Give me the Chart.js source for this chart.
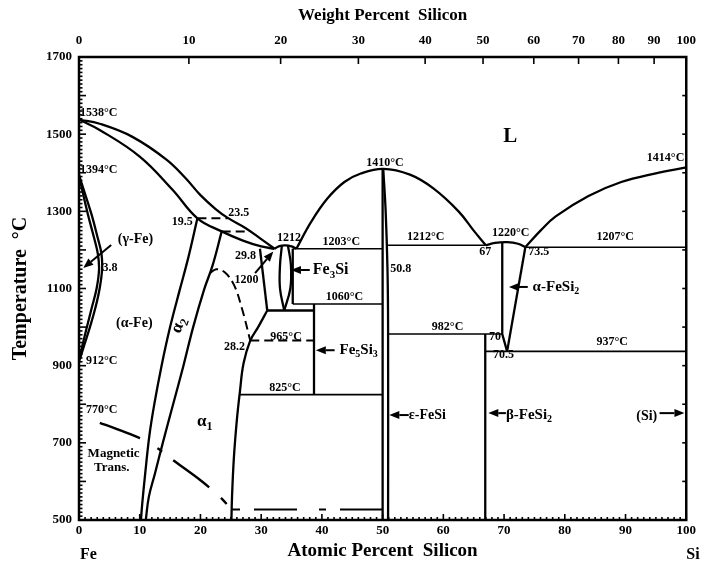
<!DOCTYPE html>
<html><head><meta charset="utf-8">
<script src="https://cdn.jsdelivr.net/npm/chart.js@4.4.0/dist/chart.umd.min.js"></script>
<style>html,body{margin:0;padding:0;background:#fff}</style>
</head><body>
<canvas id="c" width="705" height="562"></canvas>
<script>
// ---------- tick labels ----------
const tempTicks = [500, 700, 900, 1100, 1300, 1500, 1700];
const atomicTicks = [0, 10, 20, 30, 40, 50, 60, 70, 80, 90, 100];
const weightTicks = [0, 10, 20, 30, 40, 50, 60, 70, 80, 90, 100];
const M_FE = 55.845, M_SI = 28.086;

// ---------- phase boundaries [at% Si, °C] ----------
const liquidusFe   = [[0,1538],[3.4,1527],[8.8,1493],[14.4,1434],[17.6,1385],[20,1342],[22.5,1306],[24.5,1283],[27.4,1257],[30,1228],[32.2,1203]];
const solidusFe    = [[0,1538],[3.4,1511],[10,1442],[15.4,1356],[19.5,1282],[23.5,1248],[27,1224],[30,1209],[32.2,1203]];
const gammaOuter   = [[0,1394],[0.9,1350],[2.1,1290],[3.1,1230],[3.7,1190],[3.8,1150],[3.4,1100],[2.7,1050],[1.8,1000],[0.9,955],[0.3,925],[0,912]];
const gammaInner   = [[0,1394],[0.6,1350],[1.5,1290],[2.5,1230],[3.1,1190],[3.3,1150],[2.9,1100],[2.1,1050],[1.3,1000],[0.6,955],[0.15,925],[0,912]];
const tie1282      = [[19.5,1282],[24.5,1282]];
const tie1248      = [[23.5,1248],[27.6,1248]];
const alpha2Left   = [[19.5,1282],[18.0,1180],[16.6,1097],[15.0,1000],[13.6,900],[12.4,800],[11.6,720],[10.9,620],[10.4,540],[10.2,500]];
const alpha2Right  = [[23.5,1248],[22.0,1160],[20.6,1097],[18.8,1000],[17.2,900],[15.5,800],[13.8,700],[12.5,620],[11.5,560],[11.0,500]];
const orderTrans   = [[21.6,1140],[22.6,1150],[24.0,1142],[25.5,1110],[26.8,1050],[28.2,965]];
const alpha1Top    = [[29.8,1203],[31.0,1043]];
const alpha1Curve  = [[31.0,1043],[29.5,1000],[28.2,965],[27.1,906],[26.5,833],[26.0,760],[25.5,660],[25.2,560],[25.1,500]];
const dome1212     = [[32.2,1203],[33.0,1210],[34.0,1212],[35.0,1209],[35.8,1203]];
const fe2siLeft    = [[33.4,1210],[33.1,1160],[33.1,1100],[33.8,1043]];
const fe2siRight   = [[34.4,1212],[34.9,1160],[34.8,1100],[33.8,1043]];
const boxLeft      = [[35.2,1203],[35.2,1060]];
const iso1203      = [[35.2,1203],[50,1203]];
const iso1060      = [[35.2,1060],[50,1060]];
const iso1040      = [[31.0,1043],[38.7,1043]];
const fe5si3       = [[38.7,1060],[38.7,825]];
const iso965       = [[28.2,965],[38.7,965]];
const iso825       = [[26.5,825],[50,825]];
const liquidusFeSi = [[35.8,1203],[38.2,1272],[40.9,1333],[43.7,1376],[46.4,1398],[50.1,1410],[54.5,1395],[58.3,1360],[62.5,1300],[65,1250],[67,1212]];
const feSiLeft     = [[50,1410],[50,500]];
const feSiRight    = [[50.1,1410],[50.5,1300],[50.8,1150],[50.9,1000],[50.9,500]];
const iso1212      = [[50.9,1212],[67,1212]];
const iso982       = [[50.9,982],[69.7,982]];
const betaFeSi2    = [[66.9,982],[66.9,500]];
const dome1220     = [[67,1212],[68.5,1218],[70.5,1220],[72.3,1216],[73.5,1207]];
const alphaFeSi2L  = [[69.7,1219],[69.7,982],[70.5,937]];
const alphaFeSi2R  = [[73.5,1207],[70.5,937]];
const iso937       = [[66.9,937],[100,937]];
const iso1207      = [[73.5,1207],[100,1207]];
const liquidusSi   = [[73.5,1207],[76,1250],[78.5,1287],[83.9,1340],[89.3,1376],[94.8,1398],[100,1414]];
const magnetic     = [[0,770],[3.4,752],[10,712],[13,685],[15.4,656],[20,603],[23,563],[25,530]];
const lowDashed    = [[25.2,527],[50,527]];

// ---------- annotations (text, at% Si, °C) ----------
const notes = [
  ['1538°C',0.15,1555,12,'left'], ['1394°C',0.15,1408,12,'left'],
  ['(γ-Fe)',9.3,1226,14,'center'], ['3.8',5.1,1154,12,'center'],
  ['(α-Fe)',9.1,1010,14,'center'], ['912°C',1.15,912,12,'left'],
  ['770°C',1.15,785,12,'left'], ['Magnetic',5.7,671,13,'center'], ['Trans.',5.4,635,13,'center'],
  ['α_1',20.7,754,17,'center'],
  ['19.5',17.0,1272,12,'center'], ['23.5',26.3,1296,12,'center'],
  ['29.8',27.4,1185,12,'center'], ['1200',27.6,1122,12,'center'], ['1212',34.6,1231,12,'center'],
  ['1203°C',43.2,1221,12,'center'], ['Fe_3Si',38.5,1148,16,'left'], ['1060°C',43.7,1078,12,'center'],
  ['28.2',25.6,948,12,'center'], ['965°C',34.1,974,12,'center'], ['Fe_5Si_3',42.9,940,15,'left'],
  ['825°C',33.9,842,12,'center'], ['ε-FeSi',54.3,772,14,'left'],
  ['1410°C',50.4,1426,12,'center'], ['50.8',53.0,1151,12,'center'], ['1212°C',57.1,1234,12,'center'],
  ['982°C',60.7,1000,12,'center'], ['L',71.0,1493,21,'center'], ['1220°C',71.1,1244,12,'center'],
  ['67',66.9,1195,12,'center'], ['73.5',75.7,1195,12,'center'], ['1207°C',88.3,1234,12,'center'],
  ['1414°C',96.6,1439,12,'center'], ['α-FeSi_2',74.7,1104,15,'left'],
  ['70',68.5,974,12,'center'], ['70.5',69.9,928,12,'center'], ['937°C',87.8,961,12,'center'],
  ['β-FeSi_2',70.3,772,15,'left'], ['(Si)',93.5,769,14,'center']
];
const arrows = [
  [5.3,1213,0.7,1153], [29.0,1140,32.0,1196], [38.0,1148,34.9,1148], [42.1,940,39.0,940],
  [54.3,772,51.1,772], [73.9,1104,70.8,1104], [70.3,777,67.4,777], [95.6,777,99.7,777]
];

function wtToAt(w){ if (w>=100) return 100; const a=w/M_SI, b=(100-w)/M_FE; return 100*a/(a+b); }

const FONT = '"Liberation Serif", "Times New Roman", serif';
function mk(arr, opts){ return Object.assign({data: arr.map(p=>({x:p[0],y:p[1]})), showLine:true, borderColor:'#000', borderWidth:2.3, pointRadius:0, tension:0, fill:false}, opts||{}); }
const curve = {tension:0.4};
const thin = {borderWidth:1.6};
const dash = {borderDash:[9,5], borderWidth:2};

const datasets = [
  mk(liquidusFe,curve), mk(solidusFe,curve), mk(gammaOuter,curve), mk(gammaInner,curve),
  mk(tie1282,dash), mk(tie1248,dash), mk(alpha2Left,curve), mk(alpha2Right,curve),
  mk(orderTrans,Object.assign({tension:0.4},dash)), mk(alpha1Top), mk(alpha1Curve,curve),
  mk(dome1212,curve), mk(fe2siLeft,curve), mk(fe2siRight,curve), mk(boxLeft),
  mk(iso1203,thin), mk(iso1060,thin), mk(iso1040), mk(fe5si3), mk(iso965,dash), mk(iso825,thin),
  mk(liquidusFeSi,curve), mk(feSiLeft), mk(feSiRight,curve), mk(iso1212,thin), mk(iso982,thin),
  mk(betaFeSi2), mk(dome1220,curve), mk(alphaFeSi2L), mk(alphaFeSi2R), mk(iso937,thin), mk(iso1207,thin),
  mk(liquidusSi,curve),
  mk(magnetic,{tension:0.3,borderDash:[43,20,6,14,45,16,8,102],borderDashOffset:232,borderWidth:2.4}),
  mk(lowDashed,{borderDash:[8,14,43,22,7,14,42,20],borderWidth:2})
];

function richText(ctx, txt, x, y, size, align){
  const segs=[]; for(let i=0;i<txt.length;i++){ if(txt[i]==='_'&&i+1<txt.length){segs.push([txt[i+1],1]);i++;} else { if(segs.length&&segs[segs.length-1][1]===0) segs[segs.length-1][0]+=txt[i]; else segs.push([txt[i],0]); } }
  const f0='bold '+size+'px '+FONT, f1='bold '+Math.round(size*0.68)+'px '+FONT;
  let w=0; segs.forEach(s=>{ctx.font=s[1]?f1:f0; w+=ctx.measureText(s[0]).width;});
  let cx = align==='left'?x:(align==='right'?x-w:x-w/2);
  ctx.textAlign='left'; ctx.textBaseline='middle';
  segs.forEach(s=>{ctx.font=s[1]?f1:f0; ctx.fillText(s[0],cx,y+(s[1]?size*0.3:0)); cx+=ctx.measureText(s[0]).width;});
}

const deco = {
  id:'deco',
  afterDraw(chart){
    const {ctx, chartArea:a, scales:{x,y}} = chart;
    const X=v=>x.getPixelForValue(v), Y=v=>y.getPixelForValue(v);
    ctx.save();
    ctx.strokeStyle='#000'; ctx.fillStyle='#000';
    ctx.lineWidth=2.5; ctx.strokeRect(a.left,a.top,a.right-a.left,a.bottom-a.top);
    const seg=(x1,y1,x2,y2)=>{ctx.beginPath();ctx.moveTo(x1,y1);ctx.lineTo(x2,y2);ctx.stroke();};
    ctx.lineWidth=1.6;
    for(let t=500;t<=1700;t+=10){ const p=Y(t); seg(a.left,p,a.left+(t%100===0?7:3.5),p); }
    for(let t=600;t<1700;t+=100){ const p=Y(t); seg(a.right,p,a.right-4,p); }
    for(let v=0;v<=100;v+=1){ const p=X(v); seg(p,a.bottom,p,a.bottom-(v%10===0?6:3)); }
    weightTicks.forEach(w=>{ const p=X(wtToAt(w)); seg(p,a.top,p,a.top+7); });
    // arrows
    ctx.lineWidth=2;
    arrows.forEach(r=>{ const x1=X(r[0]),y1=Y(r[1]),x2=X(r[2]),y2=Y(r[3]);
      const ang=Math.atan2(y2-y1,x2-x1), L=10, W=4;
      const bx=x2-L*Math.cos(ang), by=y2-L*Math.sin(ang);
      seg(x1,y1,bx,by);
      ctx.beginPath(); ctx.moveTo(x2,y2);
      ctx.lineTo(bx+W*Math.sin(ang),by-W*Math.cos(ang)); ctx.lineTo(bx-W*Math.sin(ang),by+W*Math.cos(ang)); ctx.closePath(); ctx.fill(); });
    // notes
    notes.forEach(n=>richText(ctx,n[0],X(n[1]),Y(n[2]),n[3],n[4]));
    // rotated alpha2
    ctx.save(); ctx.translate(X(16.4),Y(1005)); ctx.rotate(-70*Math.PI/180); richText(ctx,'α_2',0,0,17,'center'); ctx.restore();
    // Fe / Si end labels
    richText(ctx,'Fe',X(0)+1,a.bottom+35,16,'left');
    richText(ctx,'Si',X(100),a.bottom+35,16,'left');
    ctx.restore();
  }
};

new Chart(document.getElementById('c'), {
  type:'scatter',
  data:{datasets},
  options:{
    responsive:false, animation:false, devicePixelRatio:1,
    layout:{padding:{left:0,right:13,top:0,bottom:0}},
    plugins:{legend:{display:false}, tooltip:{enabled:false}},
    scales:{
      x:{type:'linear', position:'bottom', min:0, max:100,
         afterFit:s=>{s.height=42;},
         afterBuildTicks:s=>{s.ticks=atomicTicks.map(v=>({value:v}));},
         grid:{display:false, drawTicks:false}, border:{display:false},
         ticks:{padding:3, color:'#000', font:{family:FONT, size:13, weight:'bold'}, maxRotation:0, autoSkip:false,
                callback:v=>String(v)},
         title:{display:true, text:'Atomic Percent  Silicon', color:'#000', font:{family:FONT,size:19,weight:'bold'}, padding:{top:0,bottom:0}}},
      x2:{type:'linear', position:'top', min:0, max:100,
         afterFit:s=>{s.height=57;},
         afterBuildTicks:s=>{s.ticks=weightTicks.map(w=>({value:wtToAt(w)}));},
         grid:{display:false, drawTicks:false}, border:{display:false},
         ticks:{padding:9, color:'#000', font:{family:FONT, size:13, weight:'bold'}, maxRotation:0, autoSkip:false,
                callback:(v,i)=>String(weightTicks[i])},
         title:{display:true, text:'Weight Percent  Silicon', color:'#000', font:{family:FONT,size:17,weight:'bold'}, padding:{top:5,bottom:0}}},
      y:{type:'linear', position:'left', min:500, max:1700,
         afterFit:s=>{s.width=79;},
         afterBuildTicks:s=>{s.ticks=tempTicks.map(v=>({value:v}));},
         grid:{display:false, drawTicks:false}, border:{display:false},
         ticks:{padding:7, color:'#000', font:{family:FONT, size:13, weight:'bold'}, callback:v=>String(v)},
         title:{display:true, text:'Temperature  °C', color:'#000', font:{family:FONT,size:20,weight:'bold'}, padding:{top:9,bottom:0}}}
    }
  },
  plugins:[deco]
});
</script>
</body></html>
